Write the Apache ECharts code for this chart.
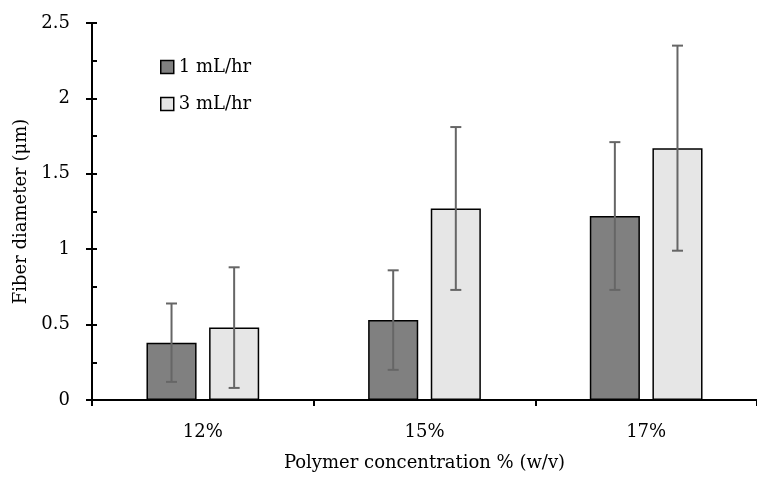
<!DOCTYPE html>
<html><head><meta charset="utf-8">
<script src="https://cdn.jsdelivr.net/npm/echarts@6/dist/echarts.min.js"></script>
<style>html,body{margin:0;padding:0;background:#fff}#c{width:757px;height:477px}</style>
</head><body><div id="c"></div>
<script>
const categories = ['12%', '15%', '17%'];
const seriesNames = ['1 mL/hr', '3 mL/hr'];
const rate1 = [0.38, 0.53, 1.22];
const err1 = [0.26, 0.33, 0.49];
const rate3 = [0.48, 1.27, 1.67];
const err3 = [0.40, 0.54, 0.68];

const FONT = 'DejaVu Serif';
const FS = 18;
const BAR_FRAC = 0.226;
const GAP_FRAC = 0.25;

function errSeries(vals, errs, side) {
  return {
    type: 'custom',
    silent: true,
    z: 10,
    data: vals.map((v, i) => [i, v - errs[i], v + errs[i]]),
    renderItem: function (params, api) {
      const idx = api.value(0);
      const lo = api.coord([idx, api.value(1)]);
      const hi = api.coord([idx, api.value(2)]);
      const band = api.size([1, 0])[0];
      const bw = band * BAR_FRAC;
      const off = side * bw * (1 + GAP_FRAC) / 2;
      const x = lo[0] + off;
      const cap = 5.5;
      const st = { stroke: '#666', lineWidth: 2 };
      return {
        type: 'group',
        children: [
          { type: 'line', shape: { x1: x, y1: lo[1], x2: x, y2: hi[1] }, style: st },
          { type: 'line', shape: { x1: x - cap, y1: lo[1], x2: x + cap, y2: lo[1] }, style: st },
          { type: 'line', shape: { x1: x - cap, y1: hi[1], x2: x + cap, y2: hi[1] }, style: st }
        ]
      };
    }
  };
}

const chart = echarts.init(document.getElementById('c'));
chart.setOption({
  animation: false,
  textStyle: { fontFamily: FONT },
  grid: { left: 92, width: 676, top: 23, height: 378, containLabel: false },
  legend: {
    orient: 'vertical', left: 160, top: 58, itemGap: 19, padding: 0,
    itemWidth: 13, itemHeight: 13, icon: 'rect',
    itemStyle: { borderColor: '#000', borderWidth: 1.5 },
    textStyle: { fontFamily: FONT, fontSize: FS, lineHeight: 18, color: '#000' },
    data: seriesNames
  },
  xAxis: {
    type: 'category', data: categories,
    name: 'Polymer concentration % (w/v)', nameLocation: 'middle', nameGap: 54,
    nameTextStyle: { fontFamily: FONT, fontSize: FS, color: '#000' },
    axisLine: { lineStyle: { color: '#000', width: 2 } },
    axisTick: { show: true, length: 6, lineStyle: { color: '#000', width: 2 } },
    axisLabel: { fontFamily: FONT, fontSize: FS, color: '#000', margin: 23 }
  },
  yAxis: [{
    type: 'value', min: 0, max: 2.5, interval: 0.5,
    name: 'Fiber diameter (μm)', nameLocation: 'middle', nameGap: 55,
    nameTextStyle: { fontFamily: FONT, fontSize: FS, color: '#000' },
    axisLine: { show: true, lineStyle: { color: '#000', width: 2 } },
    axisTick: { show: true, length: 6, lineStyle: { color: '#000', width: 2 } },
    axisLabel: { fontFamily: FONT, fontSize: FS, color: '#000', margin: 22 },
    splitLine: { show: false }
  }, {
    type: 'value', min: 0, max: 2.5, interval: 0.25, position: 'left',
    axisLine: { show: false },
    axisTick: { show: true, inside: true, length: 5, lineStyle: { color: '#000', width: 2 } },
    axisLabel: { show: false },
    splitLine: { show: false }
  }],
  series: [
    { name: seriesNames[0], type: 'bar', data: rate1, barWidth: (BAR_FRAC * 100) + '%', barGap: (GAP_FRAC * 100) + '%',
      itemStyle: { color: '#808080', borderColor: '#000', borderWidth: 1.5 } },
    { name: seriesNames[1], type: 'bar', data: rate3, barWidth: (BAR_FRAC * 100) + '%', barGap: (GAP_FRAC * 100) + '%',
      itemStyle: { color: '#e6e6e6', borderColor: '#000', borderWidth: 1.5 } },
    errSeries(rate1, err1, -1),
    errSeries(rate3, err3, 1)
  ]
});
</script></body></html>
